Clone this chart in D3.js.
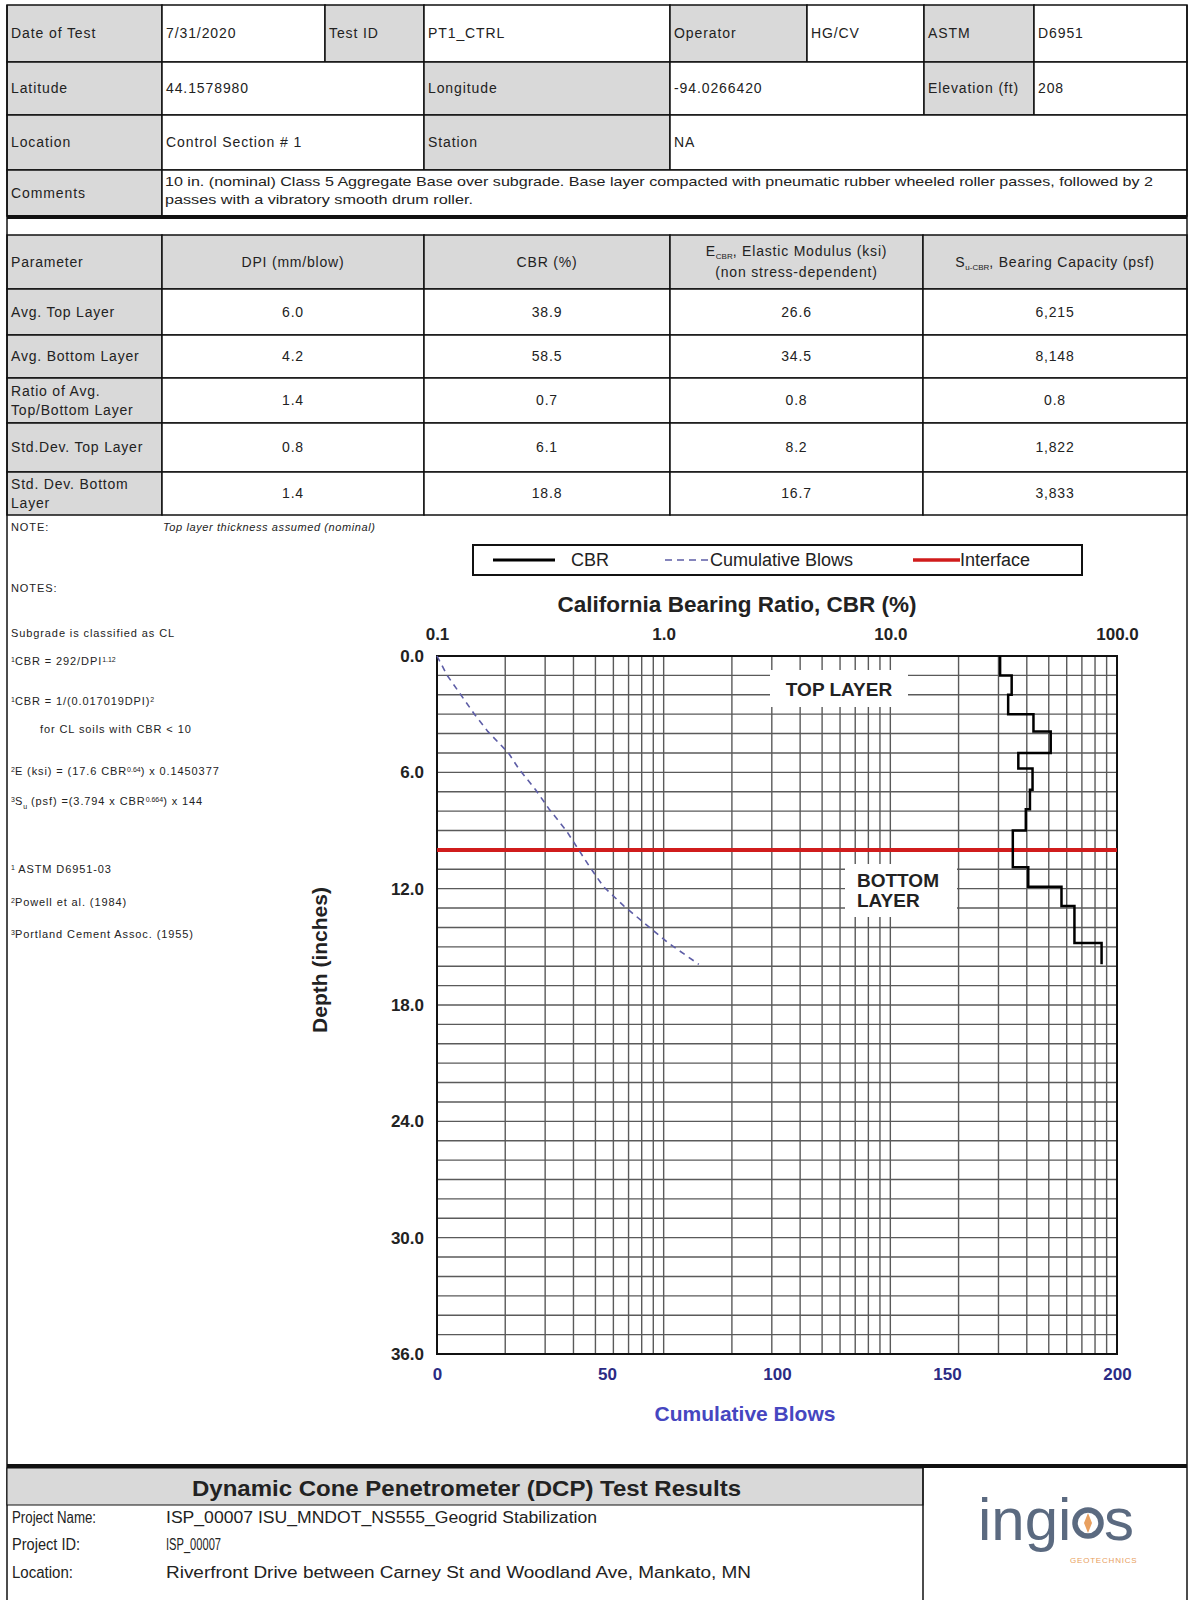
<!DOCTYPE html>
<html>
<head>
<meta charset="utf-8">
<script src="https://cdn.jsdelivr.net/npm/d3@7"></script>
<style>
  body { margin: 0; background: #fff; }
  svg text { font-family: "Liberation Sans", Arial, sans-serif; fill: #222; }
</style>
</head>
<body>
<script>
// --- data ---
const infoRows = [
  [["Date of Test", 0, 1, true], ["7/31/2020", 1, 1], ["Test ID", 2, 1, true], ["PT1_CTRL", 3, 1],
   ["Operator", 4, 1, true], ["HG/CV", 5, 1], ["ASTM", 6, 1, true], ["D6951", 7, 1]],
  [["Latitude", 0, 1, true], ["44.1578980", 1, 2], ["Longitude", 3, 1, true], ["-94.0266420", 4, 2],
   ["Elevation (ft)", 6, 1, true], ["208", 7, 1]],
  [["Location", 0, 1, true], ["Control Section # 1", 1, 2], ["Station", 3, 1, true], ["NA", 4, 4]],
  [["Comments", 0, 1, true], ["", 1, 7]]
];
const commentLines = [
  "10 in. (nominal) Class 5 Aggregate Base over subgrade. Base layer compacted with pneumatic rubber wheeled roller passes, followed by 2",
  "passes with a vibratory smooth drum roller."
];

const paramLabels = [["Avg. Top Layer"], ["Avg. Bottom Layer"], ["Ratio of Avg.", "Top/Bottom Layer"],
  ["Std.Dev. Top Layer"], ["Std. Dev. Bottom", "Layer"]];
const dpiVals = ["6.0", "4.2", "1.4", "0.8", "1.4"];
const cbrVals = ["38.9", "58.5", "0.7", "6.1", "18.8"];
const ecbrVals = ["26.6", "34.5", "0.8", "8.2", "16.7"];
const suVals = ["6,215", "8,148", "0.8", "1,822", "3,833"];

// CBR profile (step), depth in inches
const cbrDepthTop = [0, 1.0, 2.0, 3.0, 3.9, 5.0, 5.8, 6.9, 7.9, 9.0, 10.9, 11.9, 12.9, 14.8];
const cbrDepthEnd = 15.9;
const cbrValues = [30.5, 34.3, 33.1, 42.8, 51.0, 36.7, 42.4, 41.3, 39.6, 34.7, 40.6, 56.9, 64.9, 85.5];

// cumulative blows vs depth
const blowDepth = [0, 1.0, 2.0, 3.0, 3.9, 5.0, 5.8, 6.9, 7.9, 9.0, 10.9, 11.9, 12.9, 14.8, 15.9];
const blowCount = [0, 3, 7, 11, 15, 21, 24, 29, 33, 38, 45, 49, 55, 68, 77];

const interfaceDepth = 10;
const cbrTicks = [0.1, 1, 10, 100];
const depthTicks = [0, 6, 12, 18, 24, 30, 36];
const blowTicks = [0, 50, 100, 150, 200];

const footRows = [
  ["Project Name:", "ISP_00007 ISU_MNDOT_NS555_Geogrid Stabilization"],
  ["Project ID:", "ISP_00007"],
  ["Location:", "Riverfront Drive between Carney St and Woodland Ave, Mankato, MN"]
];

const W = 1189, H = 1600;
const GRAY = "#d9d9d9";

const svg = d3.select("body").append("svg")
  .attr("width", W).attr("height", H);

// ---------- header table ----------
const X1 = [7, 162, 325, 424, 670, 807, 924, 1034, 1187];
const Y1 = [5, 62, 115, 170, 216];
const head = svg.append("g");
infoRows.forEach((row, r) => {
  row.forEach(c => {
    const x0 = X1[c[1]], x1 = X1[c[1] + c[2]];
    head.append("rect").attr("x", x0).attr("y", Y1[r]).attr("width", x1 - x0).attr("height", Y1[r + 1] - Y1[r])
      .attr("fill", c[3] ? GRAY : "#fff").attr("stroke", "#111").attr("stroke-width", 1.5);
    if (c[0]) {
      head.append("text").attr("x", x0 + 4).attr("y", (Y1[r] + Y1[r + 1]) / 2).attr("dy", "0.35em")
        .style("font-size", "14px").style("letter-spacing", "0.9px").text(c[0]);
    }
  });
});
head.selectAll("text.cm").data(commentLines).join("text").attr("class", "cm")
  .attr("x", 165).attr("y", (d, i) => 186 + i * 18)
  .style("font-size", "13px")
  .attr("textLength", (d, i) => i === 0 ? 988 : 308)
  .attr("lengthAdjust", "spacingAndGlyphs")
  .text(d => d);

svg.append("line").attr("x1", 7).attr("x2", 1187).attr("y1", 217).attr("y2", 217)
  .attr("stroke", "#111").attr("stroke-width", 4);

// ---------- parameter table ----------
const X2 = [7, 162, 424, 670, 923, 1187];
const Y2 = [235, 289, 335, 378, 423, 472, 515];
const pt = svg.append("g").style("font-size", "14px").style("letter-spacing", "0.8px");
for (let r = 0; r < 6; r++) {
  for (let c = 0; c < 5; c++) {
    pt.append("rect").attr("x", X2[c]).attr("y", Y2[r]).attr("width", X2[c + 1] - X2[c]).attr("height", Y2[r + 1] - Y2[r])
      .attr("fill", (r === 0 || c === 0) ? GRAY : "#fff").attr("stroke", "#111").attr("stroke-width", 1.5);
  }
}
const cx = c => (X2[c] + X2[c + 1]) / 2;
const cy = r => (Y2[r] + Y2[r + 1]) / 2;
pt.append("text").attr("x", 11).attr("y", cy(0)).attr("dy", "0.35em").text("Parameter");
pt.append("text").attr("x", cx(1)).attr("y", cy(0)).attr("dy", "0.35em").attr("text-anchor", "middle").text("DPI (mm/blow)");
pt.append("text").attr("x", cx(2)).attr("y", cy(0)).attr("dy", "0.35em").attr("text-anchor", "middle").text("CBR (%)");
const eh = pt.append("text").attr("x", cx(3)).attr("y", cy(0) - 6).attr("text-anchor", "middle");
eh.append("tspan").text("E");
eh.append("tspan").attr("dy", 3).style("font-size", "8px").style("letter-spacing", "0px").text("CBR");
eh.append("tspan").attr("dy", -3).text(", Elastic Modulus (ksi)");
pt.append("text").attr("x", cx(3)).attr("y", cy(0) + 15).attr("text-anchor", "middle").text("(non stress-dependent)");
const sh = pt.append("text").attr("x", cx(4)).attr("y", cy(0)).attr("dy", "0.35em").attr("text-anchor", "middle");
sh.append("tspan").text("S");
sh.append("tspan").attr("dy", 3).style("font-size", "8px").style("letter-spacing", "0px").text("u-CBR");
sh.append("tspan").attr("dy", -3).text(", Bearing Capacity (psf)");

paramLabels.forEach((lines, i) => {
  const r = i + 1;
  lines.forEach((t, j) => {
    pt.append("text").attr("x", 11).attr("y", cy(r) + (j - (lines.length - 1) / 2) * 19).attr("dy", "0.35em")
      .text(t);
  });
  [dpiVals, cbrVals, ecbrVals, suVals].forEach((arr, k) => {
    pt.append("text").attr("x", cx(k + 1)).attr("y", cy(r)).attr("dy", "0.35em").attr("text-anchor", "middle")
      .text(arr[i]);
  });
});

// outer frame
svg.append("line").attr("x1", 7).attr("x2", 7).attr("y1", 5).attr("y2", H).attr("stroke", "#111").attr("stroke-width", 1.5);
svg.append("line").attr("x1", 1187).attr("x2", 1187).attr("y1", 5).attr("y2", H).attr("stroke", "#111").attr("stroke-width", 1.5);

// ---------- notes ----------
const notes = svg.append("g").style("font-size", "11px").style("letter-spacing", "0.9px");
notes.append("text").attr("x", 11).attr("y", 531).text("NOTE:");
notes.append("text").attr("x", 163).attr("y", 531).style("font-style", "italic").style("letter-spacing", "0.6px")
  .text("Top layer thickness assumed (nominal)");
function note(y, parts, x) {
  const t = notes.append("text").attr("x", x || 11).attr("y", y);
  parts.forEach(p => {
    const s = t.append("tspan").text(p[0]);
    if (p[1] === "sup") s.attr("baseline-shift", "super").style("font-size", "7px").style("letter-spacing", "0px");
    if (p[1] === "sub") s.attr("baseline-shift", "sub").style("font-size", "7px").style("letter-spacing", "0px");
  });
}
note(592, [["NOTES:"]]);
note(637, [["Subgrade is classified as CL"]]);
note(665, [["1", "sup"], ["CBR = 292/DPI"], ["1.12", "sup"]]);
note(705, [["1", "sup"], ["CBR = 1/(0.017019DPI)"], ["2", "sup"]]);
note(733, [["for CL soils with CBR < 10"]], 40);
note(775, [["2", "sup"], ["E (ksi) = (17.6 CBR"], ["0.64", "sup"], [") x 0.1450377"]]);
note(805, [["3", "sup"], ["S"], ["u", "sub"], [" (psf) =(3.794 x CBR"], ["0.664", "sup"], [") x 144"]]);
note(873, [["1", "sup"], [" ASTM D6951-03"]]);
note(906, [["2", "sup"], ["Powell et al. (1984)"]]);
note(938, [["3", "sup"], ["Portland Cement Assoc. (1955)"]]);

// ---------- chart ----------
const x = d3.scaleLog().domain([0.1, 100]).range([437, 1117]);
const xb = d3.scaleLinear().domain([0, 200]).range([437, 1117]);
const y = d3.scaleLinear().domain([0, 36]).range([656, 1354]);
const chart = svg.append("g");

// grid
chart.append("g").selectAll("line").data(x.ticks()).join("line")
  .attr("x1", d => x(d)).attr("x2", d => x(d)).attr("y1", y(0)).attr("y2", y(36))
  .attr("stroke", "#5a5a5a").attr("stroke-width", 1.4);
chart.append("g").selectAll("line").data(y.ticks(36)).join("line")
  .attr("x1", x(0.1)).attr("x2", x(100)).attr("y1", d => y(d)).attr("y2", d => y(d))
  .attr("stroke", "#5a5a5a").attr("stroke-width", 1.4);

// layer labels on white patches
chart.append("rect").attr("x", 770).attr("y", 670).attr("width", 138).attr("height", 37).attr("fill", "#fff");
chart.append("text").attr("x", 839).attr("y", 689).attr("dy", "0.35em").attr("text-anchor", "middle")
  .style("font-size", "19px").style("font-weight", "bold").text("TOP LAYER");
chart.append("rect").attr("x", 845).attr("y", 864).attr("width", 112).attr("height", 53).attr("fill", "#fff");
chart.selectAll("text.bl").data(["BOTTOM", "LAYER"]).join("text").attr("class", "bl")
  .attr("x", 857).attr("y", (d, i) => 880 + i * 20).attr("dy", "0.35em")
  .style("font-size", "19px").style("font-weight", "bold").text(d => d);

// frame
chart.append("rect").attr("x", 437).attr("y", 656).attr("width", 680).attr("height", 698)
  .attr("fill", "none").attr("stroke", "#111").attr("stroke-width", 2);

// interface
chart.append("line").attr("x1", x(0.1)).attr("x2", x(100)).attr("y1", y(interfaceDepth)).attr("y2", y(interfaceDepth))
  .attr("stroke", "#d01c1c").attr("stroke-width", 4);

// cumulative blows
const blowPts = blowDepth.map((d, i) => [blowCount[i], d]);
chart.append("path").datum(blowPts)
  .attr("d", d3.line().x(d => xb(d[0])).y(d => y(d[1])))
  .attr("fill", "none").attr("stroke", "#5d5da6").attr("stroke-width", 1.6).attr("stroke-dasharray", "6,5");

// CBR step profile
const cbrPts = cbrValues.map((v, i) => [v, cbrDepthTop[i]]);
cbrPts.push([cbrValues[cbrValues.length - 1], cbrDepthEnd]);
chart.append("path").datum(cbrPts)
  .attr("d", d3.line().x(d => x(d[0])).y(d => y(d[1])).curve(d3.curveStepBefore))
  .attr("fill", "none").attr("stroke", "#000").attr("stroke-width", 2.5);

// axes
const axTop = chart.append("g").attr("transform", "translate(0,643)")
  .call(d3.axisTop(x).tickValues(cbrTicks).tickFormat(d3.format(".1f")).tickSize(0));
const axLeft = chart.append("g").attr("transform", "translate(424,0)")
  .call(d3.axisLeft(y).tickValues(depthTicks).tickFormat(d3.format(".1f")).tickSize(0));
const axBot = chart.append("g").attr("transform", "translate(0,1365)")
  .call(d3.axisBottom(xb).tickValues(blowTicks).tickFormat(d3.format("d")).tickSize(0));
[axTop, axLeft, axBot].forEach(a => {
  a.select(".domain").remove();
  a.selectAll("text").attr("font-family", null).style("font-size", "17px").style("font-weight", "bold").style("fill", "#222");
});
axTop.selectAll("text").attr("dy", "0em");
axLeft.selectAll("text").attr("x", 0);
axBot.selectAll("text").style("fill", "#2b2b84");

chart.append("text").attr("x", 737).attr("y", 604).attr("dy", "0.35em").attr("text-anchor", "middle")
  .style("font-size", "22.5px").style("font-weight", "bold").text("California Bearing Ratio, CBR (%)");
chart.append("text").attr("transform", "translate(320,960) rotate(-90)").attr("dy", "0.35em").attr("text-anchor", "middle")
  .style("font-size", "21px").style("font-weight", "bold").text("Depth (inches)");
chart.append("text").attr("x", 745).attr("y", 1414).attr("dy", "0.35em").attr("text-anchor", "middle")
  .style("font-size", "21px").style("font-weight", "bold").style("fill", "#4646c0").text("Cumulative Blows");

// legend
const lg = svg.append("g").style("font-size", "18px");
lg.append("rect").attr("x", 473).attr("y", 545).attr("width", 609).attr("height", 30)
  .attr("fill", "#fff").attr("stroke", "#111").attr("stroke-width", 2);
lg.append("line").attr("x1", 493).attr("x2", 555).attr("y1", 560).attr("y2", 560).attr("stroke", "#000").attr("stroke-width", 3);
lg.append("text").attr("x", 571).attr("y", 560).attr("dy", "0.35em").text("CBR");
lg.append("line").attr("x1", 665).attr("x2", 710).attr("y1", 560).attr("y2", 560).attr("stroke", "#5d5da6").attr("stroke-width", 1.6).attr("stroke-dasharray", "7,5");
lg.append("text").attr("x", 710).attr("y", 560).attr("dy", "0.35em").text("Cumulative Blows");
lg.append("line").attr("x1", 913).attr("x2", 960).attr("y1", 560).attr("y2", 560).attr("stroke", "#d01c1c").attr("stroke-width", 3.5);
lg.append("text").attr("x", 960).attr("y", 560).attr("dy", "0.35em").text("Interface");

// ---------- footer ----------
const ft = svg.append("g");
ft.append("rect").attr("x", 7).attr("y", 1468).attr("width", 916).attr("height", 37)
  .attr("fill", GRAY).attr("stroke", "#111").attr("stroke-width", 1);
ft.append("line").attr("x1", 7).attr("x2", 1187).attr("y1", 1466).attr("y2", 1466).attr("stroke", "#111").attr("stroke-width", 4);
ft.append("line").attr("x1", 923).attr("x2", 923).attr("y1", 1466).attr("y2", H).attr("stroke", "#111").attr("stroke-width", 1.5);
ft.append("text").attr("x", 192).attr("y", 1488).attr("dy", "0.35em")
  .style("font-size", "22px").style("font-weight", "bold")
  .attr("textLength", 549).attr("lengthAdjust", "spacingAndGlyphs")
  .text("Dynamic Cone Penetrometer (DCP) Test Results");
const labelLen = [84, 68, 61];
const valueLen = [431, 55, 585];
footRows.forEach((r, i) => {
  ft.append("text").attr("x", 12).attr("y", 1517 + i * 27.5).attr("dy", "0.35em")
    .style("font-size", "16px").attr("textLength", labelLen[i]).attr("lengthAdjust", "spacingAndGlyphs").text(r[0]);
  ft.append("text").attr("x", 166).attr("y", 1517 + i * 27.5).attr("dy", "0.35em")
    .style("font-size", "16px").attr("textLength", valueLen[i]).attr("lengthAdjust", "spacingAndGlyphs").text(r[1]);
});

// logo
const logo = svg.append("g");
logo.append("text").attr("x", 978).attr("y", 1540).style("font-size", "60px").style("fill", "#5b6a80").text("ingi");
logo.append("circle").attr("cx", 1088).attr("cy", 1523).attr("r", 13).attr("fill", "none").attr("stroke", "#5b6a80").attr("stroke-width", 5.5);
logo.append("path").attr("d", "M1088,1513 L1092,1523 L1088,1533 L1084,1523 Z").attr("fill", "#e8a060");
logo.append("text").attr("x", 1104).attr("y", 1540).style("font-size", "60px").style("fill", "#5b6a80").text("s");
logo.append("text").attr("x", 1070).attr("y", 1563).style("font-size", "8px").style("fill", "#e8a060")
  .style("letter-spacing", "0.8px").text("GEOTECHNICS");
</script>
</body>
</html>
